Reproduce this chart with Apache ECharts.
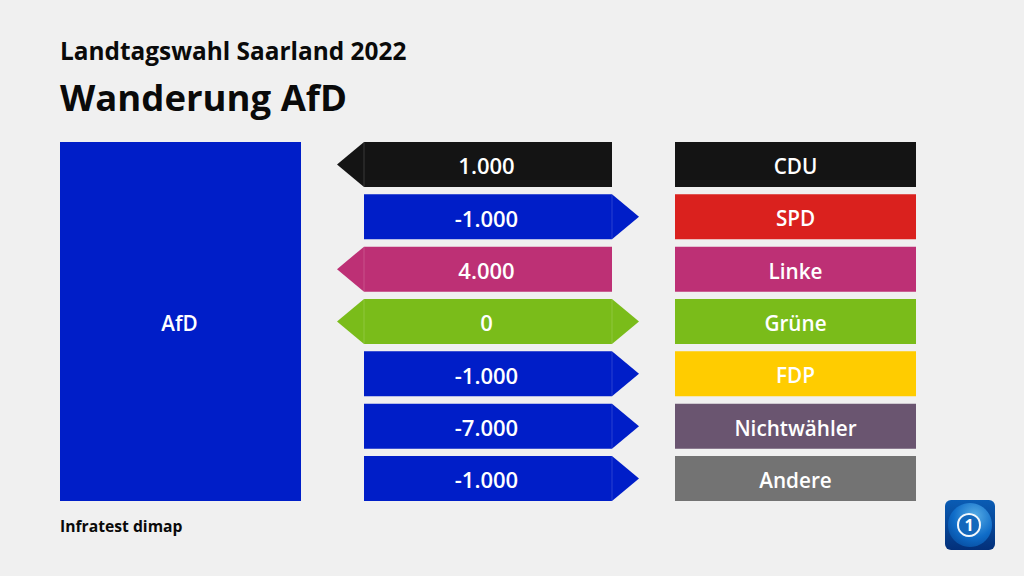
<!DOCTYPE html>
<html>
<head>
<meta charset="utf-8">
<style>html,body{margin:0;padding:0;background:#f0f0f0}#main{width:1024px;height:576px}</style>
<script src="https://cdn.jsdelivr.net/npm/echarts@6/dist/echarts.min.js"></script>
</head>
<body>
<div id="main"></div>
<script>
var source = ['AfD'];
var parties = ['CDU', 'SPD', 'Linke', 'Grüne', 'FDP', 'Nichtwähler', 'Andere'];
var flows = [1000, -1000, 4000, 0, -1000, -7000, -1000];
var partyColors = ['#141414', '#da211e', '#bd3075', '#7abc1a', '#ffcc00', '#6a5570', '#737373'];
var sourceColor = '#001ec8';

var font = '"Open Sans"';
var myChart = echarts.init(document.getElementById('main'), null, {renderer: 'svg'});

// links gewinnt die AfD, rechts verliert sie
function arrowColor(i) {
    return flows[i] < 0 ? sourceColor : partyColors[i];
}

function renderArrow(params, api) {
    var i = api.value(0);
    var flow = flows[i];
    var left = api.coord([0, i]);
    var right = api.coord([1, i]);
    var h = 45, tip = 27;
    var top = left[1] - h / 2, bottom = left[1] + h / 2;
    var color = arrowColor(i);
    var pts = [[left[0], top], [right[0], top]];
    if (flow <= 0) pts.push([right[0] + tip, left[1]]);
    pts.push([right[0], bottom], [left[0], bottom]);
    if (flow >= 0) pts.push([left[0] - tip, left[1]]);
    var children = [{type: 'polygon', shape: {points: pts}, style: {fill: color}}];
    if (flow >= 0) children.push({type: 'line', shape: {x1: left[0], y1: top, x2: left[0], y2: bottom},
        style: {stroke: 'rgba(255,255,255,0.16)', lineWidth: 1}});
    if (flow <= 0) children.push({type: 'line', shape: {x1: right[0], y1: top, x2: right[0], y2: bottom},
        style: {stroke: 'rgba(255,255,255,0.16)', lineWidth: 1}});
    children.push({type: 'text', style: {
        text: flow.toLocaleString('de-DE'),
        x: (left[0] + right[0]) / 2 - 1.5, y: left[1] + 1,
        align: 'center', verticalAlign: 'middle',
        fill: '#fff', font: '600 22px ' + font
    }});
    return {type: 'group', children: children};
}

var barLabel = {show: true, position: 'inside', offset: [0, 1.5], color: '#fff', fontFamily: font, fontWeight: 600, fontSize: 20.7};

var option = {
    backgroundColor: '#f0f0f0',
    animation: false,
    title: [
        {text: 'Landtagswahl Saarland 2022', left: 60, top: 38, padding: 0,
            textStyle: {color: '#0a0a0a', fontFamily: font, fontWeight: 700, fontSize: 24.4}},
        {text: 'Wanderung AfD', left: 60, top: 78, padding: 0,
            textStyle: {color: '#0a0a0a', fontFamily: font, fontWeight: 700, fontSize: 36.5}},
        {text: 'Infratest dimap', left: 60, top: 518, padding: 0,
            textStyle: {color: '#0a0a0a', fontFamily: font, fontWeight: 700, fontSize: 15.7}}
    ],
    grid: [
        {left: 60, width: 241, top: 142, height: 359},
        {left: 364, width: 248, top: 138.33, height: 366.33},
        {left: 675, width: 241, top: 138.33, height: 366.33}
    ],
    xAxis: [0, 1, 2].map(function (g) {
        return {type: 'value', gridIndex: g, min: 0, max: 1, show: false};
    }),
    yAxis: [
        {type: 'category', gridIndex: 0, data: source, show: false},
        {type: 'category', gridIndex: 1, data: parties, inverse: true, show: false},
        {type: 'category', gridIndex: 2, data: parties, inverse: true, show: false}
    ],
    series: [
        {
            type: 'bar', xAxisIndex: 0, yAxisIndex: 0, barWidth: '100%',
            data: [1],
            itemStyle: {color: sourceColor},
            label: Object.assign({}, barLabel, {offset: [-1, 1], formatter: function () { return source[0]; }})
        },
        {
            type: 'custom', xAxisIndex: 1, yAxisIndex: 1,
            renderItem: renderArrow,
            encode: {y: 0},
            data: flows.map(function (v, i) { return [i, v]; })
        },
        {
            type: 'bar', xAxisIndex: 2, yAxisIndex: 2, barWidth: 45,
            data: parties.map(function (p, i) {
                return {value: 1, itemStyle: {color: partyColors[i]}};
            }),
            label: Object.assign({}, barLabel, {formatter: '{b}'})
        }
    ],
    // tagesschau-Logo
    graphic: [{
        type: 'group', left: 945, top: 500,
        children: [
            {type: 'rect', shape: {x: 0, y: 0, width: 50, height: 50, r: 6},
                style: {fill: new echarts.graphic.LinearGradient(0, 0, 0, 1, [
                    {offset: 0, color: '#0a5cb4'}, {offset: 1, color: '#03307a'}])}},
            {type: 'circle', shape: {cx: 25, cy: 25, r: 22},
                style: {fill: new echarts.graphic.RadialGradient(0.6, 0.3, 0.8, [
                    {offset: 0, color: '#58aee6'}, {offset: 0.6, color: '#0f6cc8'}, {offset: 1, color: '#064a9c'}])}},
            {type: 'circle', shape: {cx: 24, cy: 25, r: 11},
                style: {fill: '#1468bc', stroke: '#f4f8fc', lineWidth: 2}},
            {type: 'text', style: {text: '1', x: 24, y: 25, align: 'center', verticalAlign: 'middle',
                fill: '#fff', font: '700 16px ' + font}}
        ]
    }]
};

myChart.setOption(option);
</script>
</body>
</html>
